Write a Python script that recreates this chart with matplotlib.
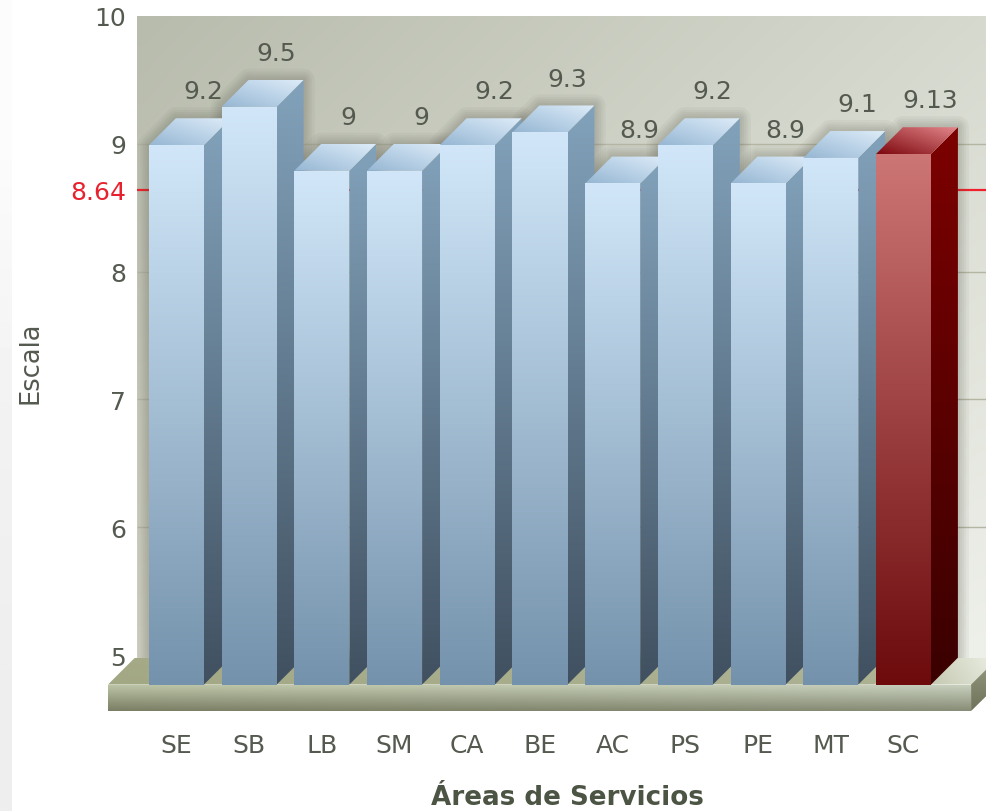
import numpy as np
import matplotlib
matplotlib.use("Agg")
import matplotlib.pyplot as plt
from matplotlib.patches import Polygon

categories = ["SE", "SB", "LB", "SM", "CA", "BE", "AC", "PS", "PE", "MT", "SC"]
values = [9.2, 9.5, 9, 9, 9.2, 9.3, 8.9, 9.2, 8.9, 9.1, 9.13]
value_labels = ["9.2", "9.5", "9", "9", "9.2", "9.3", "8.9", "9.2", "8.9", "9.1", "9.13"]
y_ticks = [5, 6, 7, 8, 9, 10]
reference_value = 8.64
reference_label = "8.64"

TEXT = "#555a50"
FS = 18
BAR_W = 0.757
DX = 0.37   # 3d depth, in category units
DY = 0.21   # 3d depth, in scale units
FLOOR = 4.77
X0, X1 = -0.942, 11.135
Y0, Y1 = 4.563, 10.0
BASE_R = 10.93
FLOOR_SPLIT = 9.6   # floor is olive up to here, then fades to the pale right end
Z = [1.0]


def next_z():
    Z[0] += 0.001
    return Z[0]


def shade(ax, pts, tl, tr, bl, br):
    # polygon filled with a bilinear gradient between the 4 corner colours
    pts = np.array(pts, dtype=float)
    xmin, ymin = pts.min(axis=0)
    xmax, ymax = pts.max(axis=0)
    u, v = np.meshgrid(np.linspace(0, 1, 64), np.linspace(0, 1, 256))
    u, v = u[..., None], v[..., None]
    img = (np.array(tl) * (1 - u) * (1 - v) + np.array(tr) * u * (1 - v)
           + np.array(bl) * (1 - u) * v + np.array(br) * u * v) / 255.0
    z = next_z()
    im = ax.imshow(img, extent=(xmin, xmax, ymin, ymax), origin="upper", aspect="auto",
                   interpolation="bilinear", zorder=z)
    clip = Polygon(pts, closed=True, transform=ax.transData, fc="none", ec="none")
    ax.add_patch(clip)
    im.set_clip_path(clip)


def shadow(ax, x, v, clip):
    # soft shadow on the wall round the bar
    left, right = x - BAR_W / 2, x + BAR_W / 2
    outline = [(left, FLOOR + DY), (left, v - DY), (left + DX, v), (right + DX, v),
               (right + DX, FLOOR + DY)]
    z = next_z()
    for lw in [16, 12, 9, 6, 3]:
        p = Polygon(outline, closed=True, fc="none", ec=(0.3, 0.3, 0.25, 0.05),
                    lw=lw, joinstyle="round", zorder=z)
        ax.add_patch(p)
        p.set_clip_path(clip)


def box(ax, x, v, c):
    left, right = x - BAR_W / 2, x + BAR_W / 2
    top = v - DY
    shade(ax, [(left, FLOOR), (right, FLOOR), (right, top), (left, top)],
          c["front_t"], c["front_t"], c["front_b"], c["front_b"])
    shade(ax, [(right, FLOOR), (right + DX, FLOOR + DY), (right + DX, v), (right, top)],
          c["side_t"], c["side_t"], c["side_b"], c["side_b"])
    shade(ax, [(left, top), (right, top), (right + DX, v), (left + DX, v)],
          c["cap_m"], c["cap_hi"], c["cap_lo"], c["cap_m"])


blue = dict(front_t=(209, 231, 249), front_b=(116, 146, 172),
            side_t=(130, 162, 187), side_b=(64, 80, 96),
            cap_lo=(150, 182, 210), cap_m=(185, 210, 232), cap_hi=(222, 236, 248))
red = dict(front_t=(205, 118, 118), front_b=(108, 10, 12),
           side_t=(125, 0, 0), side_b=(58, 0, 0),
           cap_lo=(125, 8, 14), cap_m=(175, 70, 75), cap_hi=(228, 135, 140))

fig = plt.figure(figsize=(9.86, 8.12), dpi=100, facecolor="white")

# light strip down the left edge of the page
strip = fig.add_axes([0, 0, 12 / 986, 1])
strip.imshow(np.array([[252], [242], [238]]), cmap="gray", vmin=0, vmax=255,
             aspect="auto", interpolation="bilinear")
strip.axis("off")

ax = fig.add_axes([108 / 986, 100 / 812, 878 / 986, 695 / 812])
ax.patch.set_visible(False)
for s in ax.spines.values():
    s.set_visible(False)

# back wall
wall_l = X0 + DX + 0.03
wall_b = FLOOR + DY
wall_pts = [(wall_l, wall_b), (X1, wall_b), (X1, Y1), (wall_l, Y1)]
shade(ax, wall_pts, (184, 188, 173), (214, 217, 206), (208, 209, 195), (238, 240, 234))
wall_clip = Polygon(wall_pts, closed=True, transform=ax.transData, fc="none", ec="none")
ax.add_patch(wall_clip)

# grid and the reference line
z = next_z()
ax.hlines([t for t in y_ticks if 5 < t < 10], wall_l, X1, color="#b4b5a2", lw=1, zorder=z)
ax.hlines(reference_value, wall_l, X1, color="#f0202c", lw=1.6, zorder=z)

# floor, drawn before the bars so they stand on it
shade(ax, [(X0, FLOOR), (FLOOR_SPLIT, FLOOR), (FLOOR_SPLIT + DX, FLOOR + DY), (X0 + DX, FLOOR + DY)],
      (165, 169, 134), (178, 183, 152), (162, 167, 132), (172, 177, 146))
shade(ax, [(FLOOR_SPLIT, FLOOR), (BASE_R, FLOOR), (BASE_R + DX, FLOOR + DY), (FLOOR_SPLIT + DX, FLOOR + DY)],
      (178, 183, 152), (236, 239, 228), (172, 177, 146), (226, 230, 216))
shade(ax, [(BASE_R, Y0), (BASE_R + DX, FLOOR), (BASE_R + DX, FLOOR + DY), (BASE_R, FLOOR)],
      (150, 155, 130), (150, 155, 130), (110, 115, 90), (110, 115, 90))
shade(ax, [(X0, Y0), (BASE_R, Y0), (BASE_R, FLOOR), (X0, FLOOR)],
      (190, 198, 168), (202, 210, 192), (122, 126, 100), (135, 140, 118))

# bars
xs = np.arange(len(categories))
for i, v in enumerate(values):
    shadow(ax, xs[i], v, wall_clip)
for i, v in enumerate(values):
    box(ax, xs[i], v, red if categories[i] == "SC" else blue)
for i, v in enumerate(values):
    ax.text(xs[i] + DX, v + DY, value_labels[i], ha="center", va="center",
            fontsize=FS, color=TEXT, zorder=10)

ax.set_xlim(X0, X1)
ax.set_ylim(Y0, Y1)
ax.set_axisbelow(False)
ax.set_xticks(xs)
ax.set_xticklabels(categories, fontsize=FS, color=TEXT)
ax.set_yticks(y_ticks + [reference_value])
ax.set_yticklabels([str(t) for t in y_ticks] + [reference_label], fontsize=FS, color=TEXT)
ax.get_yticklabels()[-1].set_color("#e8212e")
ax.tick_params(axis="x", length=0, pad=15.5)
ax.tick_params(axis="y", length=0, pad=-13)

ax.set_xlabel("Áreas de Servicios", fontsize=18.8, fontweight="bold", color="#4c5444", va="center")
ax.xaxis.set_label_coords((567 - 108) / 878, -(798 - 712) / 695)
ax.set_ylabel("Escala", fontsize=18.5, color=TEXT, va="center")
ax.yaxis.set_label_coords((30 - 108) / 878, (712 - 363) / 695)

fig.savefig("out.png", dpi=100)
